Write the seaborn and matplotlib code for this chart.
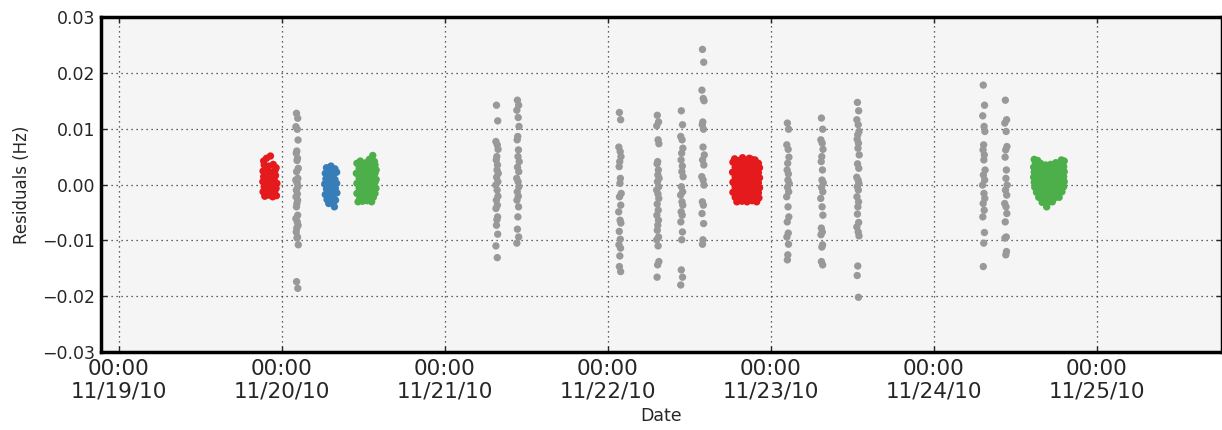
import matplotlib
matplotlib.use("Agg")
import matplotlib.pyplot as plt
import matplotlib.dates as mdates
import numpy as np
import pandas as pd
import seaborn as sns

# ---------------- data ----------------
# gray observation strips: centre time and residuals (Hz)
strip_times = ["2010-11-20 02:13", "2010-11-21 07:40", "2010-11-21 10:45",
               "2010-11-22 01:46", "2010-11-22 07:21", "2010-11-22 10:53",
               "2010-11-22 14:00", "2010-11-23 02:30", "2010-11-23 07:31",
               "2010-11-23 12:49", "2010-11-24 07:21", "2010-11-24 10:36"]
strip_vals = [
    [0.01275, 0.01186, 0.01035, 0.00989, 0.00797, 0.0060, 0.0056, 0.0047, 0.0043, 0.0029,
     0.0023, 0.0011, 0.0008, 0.0003, -0.0004, -0.0010, -0.0017, -0.0022, -0.0028, -0.0034,
     -0.0040, -0.0055, -0.0061, -0.0067, -0.0073, -0.0078, -0.0085, -0.0094, -0.0096,
     -0.0108, -0.0174, -0.0186],
    [0.0142, 0.0114, 0.0077, 0.0071, 0.0063, 0.0050, 0.0044, 0.0035, 0.0026, 0.0020, 0.0013,
     0.0005, -0.0001, -0.0010, -0.0021, -0.0028, -0.0037, -0.0043, -0.0058, -0.0063, -0.0073,
     -0.0089, -0.0110, -0.0131],
    [0.0151, 0.0142, 0.0133, 0.0120, 0.0104, 0.0086, 0.0080, 0.0062, 0.0050, 0.0041, 0.0031,
     0.0023, 0.0011, 0.0005, -0.0004, -0.0013, -0.0021, -0.0028, -0.0040, -0.0058, -0.0080,
     -0.0094, -0.0105],
    [0.0129, 0.0116, 0.0067, 0.0059, 0.0050, 0.0041, 0.0032, 0.0011, 0.0002, -0.0016, -0.0022,
     -0.0037, -0.0049, -0.0064, -0.0069, -0.0084, -0.0098, -0.0108, -0.0114, -0.0128, -0.0147,
     -0.0156],
    [0.0124, 0.0112, 0.0105, 0.0080, 0.0073, 0.0041, 0.0037, 0.0026, 0.0017, 0.0011, 0.0005,
     -0.0004, -0.0010, -0.0017, -0.0025, -0.0035, -0.0046, -0.0055, -0.0064, -0.0073, -0.0082,
     -0.0094, -0.0099, -0.0110, -0.0138, -0.0144, -0.0166],
    [0.0132, 0.0107, 0.0086, 0.0080, 0.0065, 0.0056, 0.0044, 0.0033, 0.0023, 0.0014, -0.0004,
     -0.0013, -0.0019, -0.0031, -0.0037, -0.0049, -0.0055, -0.0067, -0.0085, -0.0099, -0.0153,
     -0.0166, -0.0180],
    [0.0242, 0.0219, 0.0169, 0.0154, 0.0150, 0.0112, 0.0107, 0.0099, 0.0067, 0.0053, 0.0044,
     0.0035, 0.0014, 0.0008, -0.0001, -0.0031, -0.0037, -0.0052, -0.0070, -0.0099, -0.0107],
    [0.0110, 0.0099, 0.0071, 0.0063, 0.0049, 0.0038, 0.0026, 0.0019, 0.0008, 0.0002, -0.0005,
     -0.0013, -0.0022, -0.0040, -0.0058, -0.0067, -0.0087, -0.0094, -0.0107, -0.0126, -0.0135],
    [0.0119, 0.0099, 0.0080, 0.0074, 0.0063, 0.0050, 0.0041, 0.0026, 0.0008, 0.0003, -0.0005,
     -0.0013, -0.0025, -0.0040, -0.0055, -0.0078, -0.0085, -0.0090, -0.0108, -0.0112, -0.0138,
     -0.0144],
    [0.0147, 0.0132, 0.0116, 0.0107, 0.0095, 0.0089, 0.0081, 0.0074, 0.0065, 0.0053, 0.0037,
     0.0029, 0.0013, 0.0008, 0.0002, -0.0004, -0.0010, -0.0022, -0.0031, -0.0040, -0.0053,
     -0.0068, -0.0076, -0.0085, -0.0092, -0.0146, -0.0163, -0.0202],
    [0.0178, 0.0142, 0.0123, 0.0104, 0.0095, 0.0071, 0.0062, 0.0053, 0.0044, 0.0026, 0.0017,
     0.0008, -0.0001, -0.0016, -0.0025, -0.0034, -0.0046, -0.0058, -0.0086, -0.0105, -0.0147],
    [0.0151, 0.0116, 0.0110, 0.0095, 0.0068, 0.0062, 0.0049, 0.0026, 0.0011, -0.0001, -0.0010,
     -0.0019, -0.0034, -0.0040, -0.0052, -0.0067, -0.0094, -0.0096, -0.0120, -0.0126],
]
# small time offsets (minutes) of strip points around their centre time
strip_dx = [-5, 6, -10, 2, 9, -2, -7, 4, 0, 11, -4, 7, -11, 1, 8, -6, 3, -9, 5, -1]

# dense coloured clusters: centre time, colour, offsets (minutes) and residuals (Hz)
cluster_times = ["2010-11-19 22:13", "2010-11-20 07:13", "2010-11-20 12:22",
                 "2010-11-22 20:19", "2010-11-24 16:56"]
cluster_groups = ["red", "blue", "green", "red", "green"]
cluster_dx = [
    [-50, -10, 30, 55, -60, -25, 10, 45, -55, -20, 15, 50, -62, -30, 5, 40, 62, -50, -15, 20,
     55, -60, -28, 8, 42, -45, -10, 25, 58, -30, 5, -55, 35, -40],
    [-40, 0, 35, -50, -15, 25, 50, -45, -5, 35, -55, -20, 15, 50, -40, 0, 38, -50, -15, 22, 52,
     -35, 5, 40, -20, 20, 30, -30, 10],
    [-80, -40, 0, 40, 80, -60, -20, 20, 60, 90, -85, -40, 0, 40, 80, -60, -20, 20, 60, 90,
     -80, -40, 0, 40, 80, -60, -20, 20, 60, 88, -80, -40, 0, 40, 80, -55, -15, 25, 65,
     -70, -30, 10, 50, 60, 30, -50, 75],
    [-115, -70, -25, 20, 65, 110, -95, -50, -5, 40, 85, 120, -118, -70, -25, 20, 65, 110,
     -95, -50, -5, 40, 85, 120, -115, -70, -25, 20, 65, 110, -95, -50, -5, 40, 85, 120,
     -115, -70, -25, 20, 65, 110, -95, -50, -5, 40, 85, 115, -80, -35, 10, 55, 95,
     -100, -30, 30, 80, -60, 50],
    [-120, -75, -30, 15, 60, 105, -135, -95, -50, -5, 40, 85, 130, -130, -85, -40, 5, 50, 95,
     135, -135, -95, -50, -5, 40, 85, 130, -130, -85, -40, 5, 50, 95, 135, -125, -80, -35,
     10, 55, 100, 130, -110, -65, -20, 25, 70, 115, -90, -45, 0, 45, 90, -60, -15, 30,
     -130, -100, 110, 135, -20],
]
cluster_vals = [
    [0.0035, 0.0033, 0.0036, 0.0030, 0.0024, 0.0027, 0.0022, 0.0025, 0.0014, 0.0017, 0.0012,
     0.0016, 0.0005, 0.0007, 0.0003, 0.0006, 0.0002, -0.0004, -0.0006, -0.0003, -0.0007,
     -0.0013, -0.0011, -0.0015, -0.0012, -0.0021, -0.0019, -0.0022, -0.0020, 0.0047, 0.0051,
     0.0042, 0.0009, -0.0017],
    [0.0030, 0.0033, 0.0028, 0.0020, 0.0023, 0.0019, 0.0022, 0.0010, 0.0012, 0.0009, 0.0001,
     0.0003, -0.0001, 0.0002, -0.0008, -0.0010, -0.0007, -0.0018, -0.0016, -0.0019, -0.0015,
     -0.0027, -0.0025, -0.0028, -0.0034, -0.0033, -0.0040, 0.0015, -0.0005],
    [0.0038, 0.0036, 0.0039, 0.0037, 0.0035, 0.0029, 0.0030, 0.0028, 0.0031, 0.0026,
     0.0020, 0.0021, 0.0019, 0.0022, 0.0020, 0.0011, 0.0012, 0.0010, 0.0013, 0.0009,
     0.0002, 0.0003, 0.0001, 0.0002, 0.0004, -0.0007, -0.0006, -0.0008, -0.0005, -0.0007,
     -0.0016, -0.0015, -0.0017, -0.0014, -0.0016, -0.0025, -0.0024, -0.0026, -0.0023,
     -0.0031, -0.0030, -0.0029, -0.0031, 0.0052, 0.0045, 0.0042, 0.0041],
    [0.0040, 0.0038, 0.0041, 0.0039, 0.0042, 0.0038, 0.0031, 0.0032, 0.0030, 0.0033, 0.0031,
     0.0030, 0.0022, 0.0023, 0.0021, 0.0022, 0.0024, 0.0021, 0.0013, 0.0014, 0.0012, 0.0013,
     0.0015, 0.0012, 0.0004, 0.0005, 0.0003, 0.0004, 0.0006, 0.0003, -0.0005, -0.0004,
     -0.0006, -0.0005, -0.0003, -0.0006, -0.0014, -0.0013, -0.0015, -0.0014, -0.0012,
     -0.0015, -0.0023, -0.0022, -0.0024, -0.0023, -0.0021, -0.0024, -0.0031, -0.0030,
     -0.0031, -0.0029, -0.0031, 0.0046, 0.0048, 0.0047, 0.0044, 0.0043, 0.0045],
    [0.0040, 0.0038, 0.0035, 0.0036, 0.0039, 0.0041, 0.0031, 0.0030, 0.0032, 0.0029, 0.0031,
     0.0030, 0.0032, 0.0022, 0.0021, 0.0023, 0.0020, 0.0022, 0.0021, 0.0023, 0.0013, 0.0012,
     0.0014, 0.0011, 0.0013, 0.0012, 0.0014, 0.0004, 0.0003, 0.0005, 0.0002, 0.0004, 0.0003,
     0.0005, -0.0005, -0.0006, -0.0004, -0.0007, -0.0005, -0.0006, -0.0004, -0.0014, -0.0015,
     -0.0013, -0.0016, -0.0014, -0.0013, -0.0023, -0.0024, -0.0022, -0.0025, -0.0023,
     -0.0032, -0.0034, -0.0031, 0.0045, 0.0043, 0.0044, 0.0042, -0.0040],
]

palette = {"red": "#e41a1c", "blue": "#377eb8", "green": "#4daf4a", "gray": "#999999"}

# ---------------- build table ----------------
rows = []
for t, vals in zip(strip_times, strip_vals):
    t0 = pd.Timestamp(t)
    for i, v in enumerate(vals):
        rows.append((t0 + pd.Timedelta(minutes=strip_dx[i % len(strip_dx)]), v, "gray"))
for t, g, dxs, vals in zip(cluster_times, cluster_groups, cluster_dx, cluster_vals):
    t0 = pd.Timestamp(t)
    for dx, v in zip(dxs, vals):
        rows.append((t0 + pd.Timedelta(minutes=dx), v, g))
df = pd.DataFrame(rows, columns=["Date", "Residuals", "group"])

# ---------------- plot ----------------
sns.set_style("white")
plt.rcParams["font.family"] = ["DejaVu Sans"]

fig = plt.figure(figsize=(12.22, 4.30), dpi=100)
ax = fig.add_axes([101 / 1222, 78 / 430, 1 - 101 / 1222, (352 - 17) / 430])
ax.set_facecolor("#f5f5f5")

sns.scatterplot(data=df, x="Date", y="Residuals", hue="group", palette=palette,
                s=28, linewidth=0, legend=False, ax=ax, zorder=3)

ax.set_ylim(-0.03, 0.03)
ax.set_yticks([-0.03, -0.02, -0.01, 0.0, 0.01, 0.02, 0.03])
ax.set_xlim(pd.Timestamp("2010-11-18 21:21"), pd.Timestamp("2010-11-25 18:25"))
ax.xaxis.set_major_locator(mdates.DayLocator())
ax.xaxis.set_major_formatter(mdates.DateFormatter("%H:%M\n%m/%d/%y"))

ax.grid(True, color="#333333", linestyle=(0, (1, 3)), linewidth=0.9, zorder=0)
ax.set_axisbelow(True)
for sp in ax.spines.values():
    sp.set_color("black")
    sp.set_linewidth(2.5)

ax.tick_params(axis="both", direction="in", length=4, width=1,
               top=True, right=True, bottom=True, left=True)
ax.tick_params(axis="x", labelsize=15.5, pad=5)
ax.tick_params(axis="y", labelsize=12.5, pad=4)
for lbl in ax.get_xticklabels():
    lbl.set_linespacing(1.15)

ax.set_xlabel("Date", fontsize=12.5, labelpad=4)
ax.set_ylabel("Residuals (Hz)", fontsize=12, labelpad=8)

fig.savefig("out.png", dpi=100)
